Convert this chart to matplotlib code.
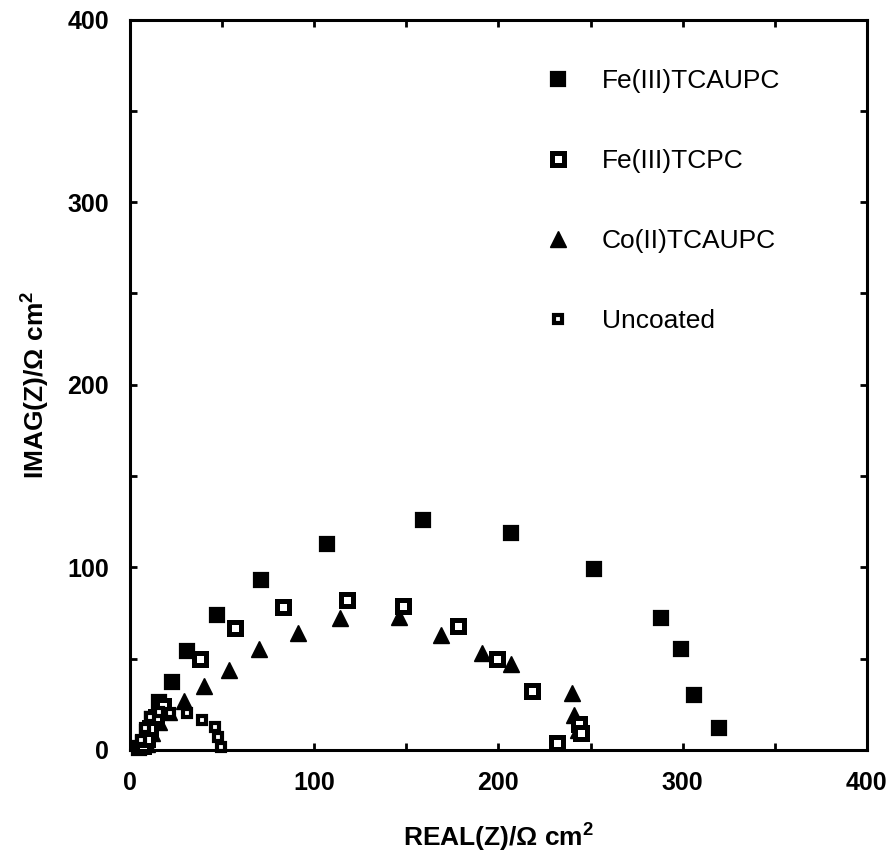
import matplotlib
matplotlib.use("Agg")
import matplotlib.pyplot as plt
from matplotlib.ticker import MultipleLocator

plt.rcParams["font.family"] = ["Liberation Sans", "DejaVu Sans"]
plt.rcParams["mathtext.fontset"] = "custom"
plt.rcParams["mathtext.rm"] = "Liberation Sans"
plt.rcParams["mathtext.bf"] = "Liberation Sans:bold"

# Nyquist data (Ohm cm^2)
fe_tcaupc_x = [5, 7, 9, 12, 16, 23, 31, 47, 71, 107, 159, 207, 252, 288, 299, 306, 320]
fe_tcaupc_y = [1, 4, 10, 17, 26, 37, 54, 74, 93, 113, 126, 119, 99, 72, 55, 30, 12]

fe_tcpc_x = [7, 9, 11, 14, 18, 38, 57, 83, 118, 148, 178, 199, 218, 232, 244, 245]
fe_tcpc_y = [2, 6, 12, 18, 24, 50, 67, 78, 82, 79, 68, 50, 32, 4, 14, 9]

co_tcaupc_x = [9, 12, 16, 21, 29.5, 40, 54, 70, 91, 114, 146, 169, 191, 207, 240, 241, 243]
co_tcaupc_y = [3, 9, 15, 21, 27, 35, 44, 55, 64, 72, 73, 63, 53, 47, 31, 19, 11]

uncoated_x = [6, 8, 11, 16, 22, 31, 39, 46, 48, 49.5]
uncoated_y = [5.5, 12, 18, 21, 20, 20, 16.4, 12.4, 7.3, 1.5]

labels = ["Fe(III)TCAUPC", "Fe(III)TCPC", "Co(II)TCAUPC", "Uncoated"]

fig = plt.figure(figsize=(8.9, 8.55), dpi=100)
ax = fig.add_axes([0.146, 0.123, 0.828, 0.854])

h1, = ax.plot(fe_tcaupc_x, fe_tcaupc_y, "s", ms=10.3, mfc="black", mec="black",
              mew=1.6, label=labels[0])
h3, = ax.plot(co_tcaupc_x, co_tcaupc_y, "^", ms=11.5, mfc="black", mec="black",
              mew=1.0, label=labels[2])
h2, = ax.plot(fe_tcpc_x, fe_tcpc_y, "s", ms=8.2, mfc="white", mec="black",
              mew=3.6, label=labels[1])
h4, = ax.plot(uncoated_x, uncoated_y, "s", ms=5.8, mfc="white", mec="black",
              mew=3.0, label=labels[3])
for h in (h1, h2, h3, h4):
    h.set_clip_on(False)

ax.set_xlim(0, 400)
ax.set_ylim(0, 400)
ax.xaxis.set_major_locator(MultipleLocator(100))
ax.xaxis.set_minor_locator(MultipleLocator(50))
ax.yaxis.set_major_locator(MultipleLocator(100))
ax.yaxis.set_minor_locator(MultipleLocator(50))

for side in ax.spines.values():
    side.set_linewidth(2.2)

ax.tick_params(which="both", direction="in", top=True, right=True,
               width=2.0, length=5)
ax.tick_params(axis="x", which="major", pad=15, labelsize=18)
ax.tick_params(axis="y", which="major", pad=15, labelsize=18)
for lab in ax.get_xticklabels() + ax.get_yticklabels():
    lab.set_fontweight("bold")

ax.set_xlabel(r"REAL(Z)/Ω cm$^{\mathbf{2}}$", fontsize=19, fontweight="bold",
              labelpad=18)
ax.set_ylabel(r"IMAG(Z)/Ω cm$^{\mathbf{2}}$", fontsize=19, fontweight="bold",
              labelpad=12)

ax.legend(handles=[h1, h2, h3, h4], loc="upper left",
          bbox_to_anchor=(0.563, 0.932), frameon=False, fontsize=19,
          borderpad=0, borderaxespad=0, handlelength=1.0,
          handletextpad=1.16, labelspacing=2.12, numpoints=1)

fig.savefig("out.png", dpi=100)
